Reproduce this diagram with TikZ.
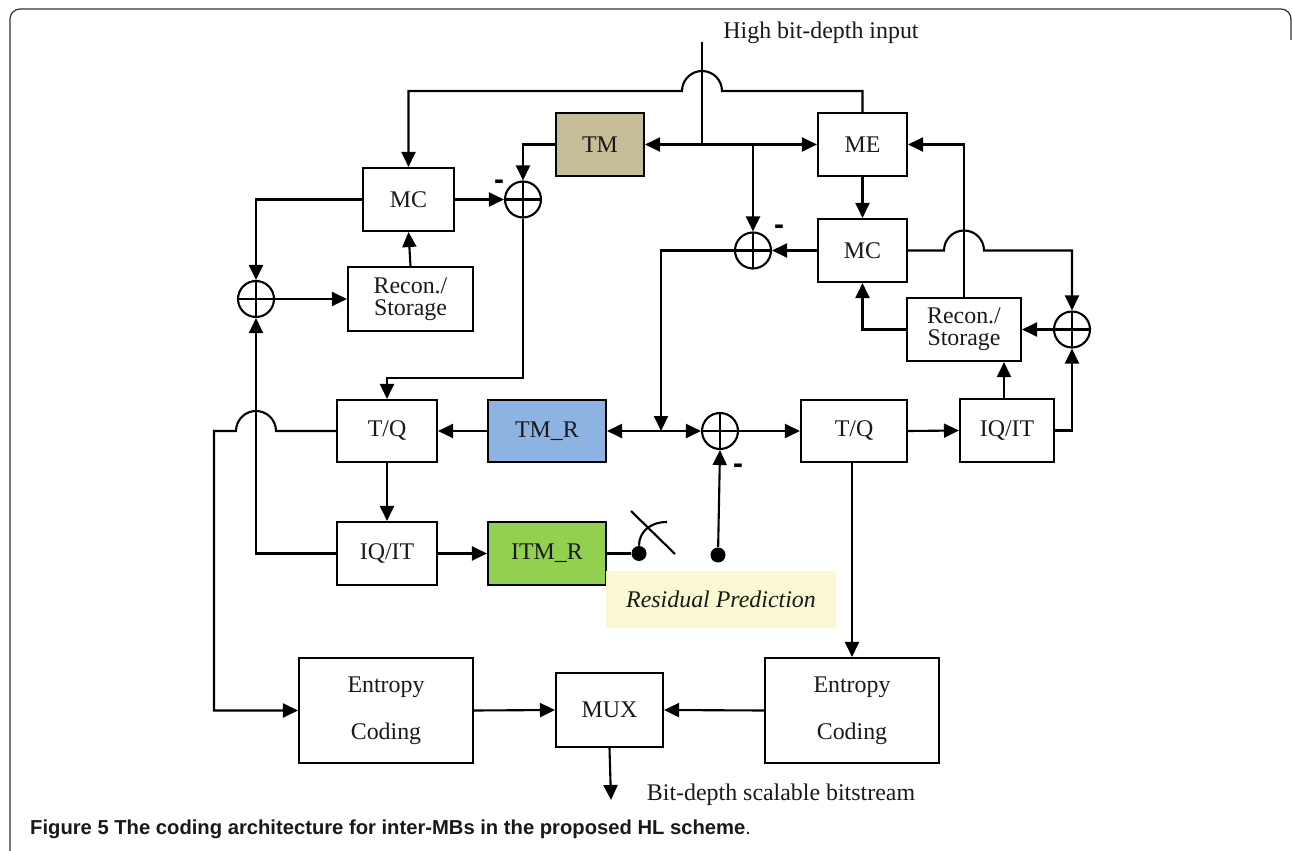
\documentclass[tikz,border=0pt]{standalone}
\usepackage{fontspec}
\setmainfont{Liberation Serif}
\newfontfamily\capfont{Liberation Sans}
\usetikzlibrary{arrows.meta}

\definecolor{tmtan}{HTML}{C4BD97}
\definecolor{tmrblue}{HTML}{8DB3E2}
\definecolor{itmgreen}{HTML}{92D050}
\definecolor{resyellow}{HTML}{FAF8D2}
\newcommand{\blockfont}{\fontsize{13.6}{15}\selectfont}
\newcommand{\recfont}{\fontsize{13.6}{12.4}\selectfont}
\newcommand{\entfont}{\fontsize{13.6}{26.7}\selectfont}

\begin{document}
\begin{tikzpicture}[
    x=0.02cm, y=-0.02cm,
    block/.style={draw, line width=1.2pt, inner sep=0pt, font=\blockfont, text=black!90},
    sum/.style={draw, circle, line width=1.2pt, minimum size=0.72cm, inner sep=0pt,
        path picture={\draw[line width=1.2pt]
            (path picture bounding box.north) -- (path picture bounding box.south)
            (path picture bounding box.west) -- (path picture bounding box.east);}},
    flow/.style={-{Triangle[length=0.3cm, width=0.28cm]}, line width=1.2pt},
    both/.style={{Triangle[length=0.3cm, width=0.28cm]}-{Triangle[length=0.3cm, width=0.28cm]}, line width=1.2pt},
    link/.style={line width=1.2pt},
    minus/.style={font=\capfont\bfseries\fontsize{17}{17}\selectfont, inner sep=0pt},
    tap/.style={circle, fill, inner sep=0pt, minimum size=0.3cm},
    note/.style={font=\blockfont, text=black!90}
]
\useasboundingbox (0,0) rectangle (1292,851);

% frame and caption
\draw[line width=0.7pt, black!80, rounded corners=0.2cm] (10,851) -- (10,9) -- (1291,9) -- (1291,40);
\node[anchor=base west, font=\capfont\fontsize{11.5}{12}\selectfont, text=black!90] (caption) at (24,834)
    {\textbf{Figure 5 The coding architecture for inter-MBs in the proposed HL scheme}.};

% base layer (left)
\node[block, minimum width=1.82cm, minimum height=1.26cm] (mcL) at (408.5,199.5) {MC};
\node[block, font=\recfont, align=center, minimum width=2.5cm, minimum height=1.28cm] (recL) at (410.5,299) {Recon./\\Storage};
\node[block, fill=tmtan, minimum width=1.76cm, minimum height=1.26cm] (tm) at (600,144.5) {TM};
\node[block, minimum width=2.0cm, minimum height=1.24cm] (tqL) at (387,431) {T/Q};
\node[block, fill=tmrblue, minimum width=2.36cm, minimum height=1.24cm] (tmr) at (547,431) {TM\_R};
\node[block, minimum width=2.0cm, minimum height=1.26cm] (iqL) at (387,553.5) {IQ/IT};
\node[block, fill=itmgreen, minimum width=2.36cm, minimum height=1.26cm] (itmr) at (547,553.5) {ITM\_R};

% enhancement layer (right)
\node[block, minimum width=1.78cm, minimum height=1.26cm] (me) at (862.5,144.5) {ME};
\node[block, minimum width=1.78cm, minimum height=1.26cm] (mcR) at (862.5,250.5) {MC};
\node[block, font=\recfont, align=center, minimum width=2.28cm, minimum height=1.26cm] (recR) at (964,329.5) {Recon./\\Storage};
\node[block, minimum width=2.12cm, minimum height=1.24cm] (tqR) at (854,431) {T/Q};
\node[block, minimum width=1.88cm, minimum height=1.26cm] (iqR) at (1007,430.5) {IQ/IT};

% entropy coding and mux
\node[block, font=\entfont, align=center, minimum width=3.48cm, minimum height=2.1cm] (entL) at (386,710.5) {Entropy\\Coding};
\node[block, minimum width=2.14cm, minimum height=1.48cm] (mux) at (609.5,710) {MUX};
\node[block, font=\entfont, align=center, minimum width=3.48cm, minimum height=2.1cm] (entR) at (852,710.5) {Entropy\\Coding};

% adders
\node[sum] (s1) at (523,199.5) {};
\node[sum] (s2) at (256,299) {};
\node[sum] (s3) at (753,250.5) {};
\node[sum] (s4) at (1072,329.5) {};
\node[sum] (s5) at (720,431) {};
\node[minus] (m1) at (499,185) {-};
\node[minus] (m2) at (779,230) {-};
\node[minus] (m3) at (738,469) {-};

% labels
\node[note] (input) at (821,33) {High bit-depth input};
\node[note] (bitstream) at (781,795) {Bit-depth scalable bitstream};
\node[fill=resyellow, minimum width=4.6cm, minimum height=1.14cm, font=\blockfont\itshape, text=black!90] (resid) at (721,599.5) {Residual Prediction};

% switch
\node[tap] (dot1) at (639,553.5) {};
\node[tap] (dot2) at (718,555) {};
\coordinate (swA) at (631,511);
\coordinate (swB) at (675,554);
\coordinate (swTip) at (667,522);

\coordinate (inTop) at (702,42);
\coordinate (inJ) at (702,144.5);
\coordinate (j1) at (753,144.5);
\coordinate (j2) at (661,431);
\coordinate (outEnd) at (611,800);

% input distribution
\draw[link] (inTop) -- (inJ);
\draw[flow] (inJ) -- (tm.east);
\draw[flow] (inJ) -- (me.west);
\draw[flow] (j1) -- (s3.north);
\draw[flow] (me.north) |- (722,91) arc[start angle=0, end angle=180, radius=0.4cm] -- (408.5,91) -- (mcL.north);

% base layer loop
\draw[flow] (mcL.west) -| (s2.north);
\draw[flow] (s2.east) -- (recL.west);
\draw[flow] (recL.north) -- (mcL.south);
\draw[flow] (mcL.east) -- (s1.west);
\draw[flow] (tm.west) -| (s1.north);
\draw[flow] (s1.south) -- (523,378) -| (tqL.north);
\draw[flow] (tmr.west) -- (tqL.east);
\draw[flow] (tqL.south) -- (iqL.north);
\draw[flow] (iqL.east) -- (itmr.west);
\draw[flow] (iqL.west) -| (s2.south);
\draw[flow] (tqL.west) -- (276,431) arc[start angle=0, end angle=180, radius=0.4cm] -- (214,431) |- (entL.west);

% enhancement layer loop
\draw[flow] (me.south) -- (mcR.north);
\draw[flow] (mcR.west) -- (s3.east);
\draw[flow] (s3.west) -| (j2);
\draw[both] (tmr.east) -- (s5.west);
\draw[flow] (s5.east) -- (tqR.west);
\draw[flow] (tqR.east) -- (iqR.west);
\draw[flow] (recR.south -| 1004,0) ++(0,38) -- (recR.south -| 1004,0);
\draw[flow] (iqR.east) -| (s4.south);
\draw[flow] (s4.west) -- (recR.east);
\draw[flow] (recR.west) -| (mcR.south);
\draw[flow] (recR.north) |- (me.east);
\draw[flow] (mcR.east) -- (944,250.5) arc[start angle=180, end angle=0, radius=0.4cm] -- (1072,250.5) -- (s4.north);

% residual prediction switch
\draw[link] (itmr.east) -- (dot1);
\draw[link] (swA) -- (swB);
\draw[link] (dot1.north) .. controls (639,532) and (650,522) .. (swTip);
\draw[flow] (dot2) -- (s5.south);

% output
\draw[flow] (tqR.south -| entR.north) -- (entR.north);
\draw[flow] (entL.east) -- (mux.west);
\draw[flow] (entR.west) -- (mux.east);
\draw[flow] (mux.south) -- (outEnd);

\end{tikzpicture}
\end{document}
